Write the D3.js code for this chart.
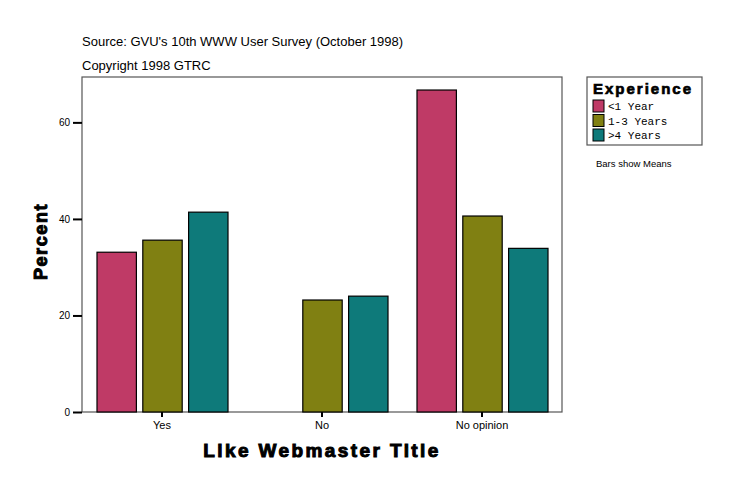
<!DOCTYPE html>
<html>
<head>
<meta charset="utf-8">
<script src="https://cdn.jsdelivr.net/npm/d3@7"></script>
<style>
  body { margin: 0; background: #fff; }
  text { font-family: "Liberation Sans", Arial, sans-serif; }
</style>
</head>
<body>
<div id="chart"></div>
<script>
// Chart data
const categories = ["Yes", "No", "No opinion"];
const seriesNames = ["<1 Year", "1-3 Years", ">4 Years"];
const lessThanOne = [33.1, null, 66.7];
const oneToThree = [35.6, 23.2, 40.6];
const overFour = [41.4, 24.0, 33.9];
const yTicks = [0, 20, 40, 60];
const colors = ["#bf3a66", "#808012", "#0e7a7a"];

const svgWidth = 736;
const svgHeight = 496;

// Plot frame
const margin = { top: 77, right: 174, bottom: 84, left: 82 };
const chartWidth = svgWidth - margin.left - margin.right;
const chartHeight = svgHeight - margin.top - margin.bottom;

const svg = d3.select("#chart")
  .append("svg")
  .attr("width", svgWidth)
  .attr("height", svgHeight);

// header texts
svg.append("text")
  .attr("x", 82).attr("y", 46)
  .style("font-size", "13px")
  .text("Source: GVU's 10th WWW User Survey (October 1998)");
svg.append("text")
  .attr("x", 82).attr("y", 70)
  .style("font-size", "13px")
  .text("Copyright 1998 GTRC");

const chartGroup = svg.append("g")
  .attr("transform", `translate(${margin.left}, ${margin.top})`);

// scales
const xScale = d3.scaleBand()
  .domain(categories)
  .range([0, chartWidth]);

const xInner = d3.scaleBand()
  .domain(seriesNames)
  .range([15, 146])
  .paddingInner(0.14);

const yScale = d3.scaleLinear()
  .domain([0, 69.4])
  .range([chartHeight, 0]);

// frame
chartGroup.append("rect")
  .attr("width", chartWidth)
  .attr("height", chartHeight)
  .attr("fill", "none")
  .attr("stroke", "#555")
  .attr("stroke-width", 1.2);

// bars
const seriesValues = [lessThanOne, oneToThree, overFour];
const barData = [];
categories.forEach((c, i) => {
  seriesNames.forEach((s, j) => {
    if (seriesValues[j][i] != null) {
      barData.push({ cat: c, series: s, value: seriesValues[j][i], color: colors[j] });
    }
  });
});

chartGroup.selectAll("rect.bar")
  .data(barData)
  .enter()
  .append("rect")
  .attr("class", "bar")
  .attr("x", d => xScale(d.cat) + xInner(d.series))
  .attr("y", d => yScale(d.value))
  .attr("width", xInner.bandwidth())
  .attr("height", d => chartHeight - yScale(d.value))
  .attr("fill", d => d.color)
  .attr("stroke", "#000")
  .attr("stroke-width", 1.2);

// left axis
const leftAxis = d3.axisLeft(yScale)
  .tickValues(yTicks)
  .tickSize(9)
  .tickPadding(3);
const gy = chartGroup.append("g").call(leftAxis);
gy.select(".domain").remove();
gy.selectAll("line").attr("stroke", "#000").attr("stroke-width", 2);
gy.selectAll("text")
  .style("font-size", "10px")
  .style("font-family", "Liberation Sans, Arial, sans-serif");

// bottom axis
const bottomAxis = d3.axisBottom(xScale)
  .tickSize(5)
  .tickPadding(4);
const gx = chartGroup.append("g")
  .attr("transform", `translate(0, ${chartHeight})`)
  .call(bottomAxis);
gx.select(".domain").remove();
gx.selectAll("line").attr("stroke", "#000").attr("stroke-width", 2);
gx.selectAll("text")
  .style("font-size", "11px")
  .style("font-family", "Liberation Sans, Arial, sans-serif");

// axis titles
svg.append("text")
  .attr("x", margin.left + chartWidth / 2)
  .attr("y", 457)
  .attr("text-anchor", "middle")
  .style("font-size", "19px")
  .style("font-weight", "bold")
  .style("letter-spacing", "2.4px")
  .attr("stroke", "#000")
  .attr("stroke-width", 1)
  .text("Like Webmaster Title");

svg.append("text")
  .attr("transform", `translate(47, ${margin.top + chartHeight / 2 - 3}) rotate(-90)`)
  .attr("text-anchor", "middle")
  .style("font-size", "18px")
  .style("font-weight", "bold")
  .style("letter-spacing", "1.6px")
  .attr("stroke", "#000")
  .attr("stroke-width", 1)
  .text("Percent");

// legend
const legend = svg.append("g").attr("transform", "translate(587, 77)");
legend.append("rect")
  .attr("width", 115).attr("height", 68)
  .attr("fill", "#fff")
  .attr("stroke", "#555")
  .attr("stroke-width", 1.2);
legend.append("text")
  .attr("x", 6).attr("y", 17)
  .style("font-size", "15px")
  .style("font-weight", "bold")
  .style("letter-spacing", "2px")
  .attr("stroke", "#000")
  .attr("stroke-width", 0.7)
  .text("Experience");

const items = legend.selectAll("g.item")
  .data(seriesNames)
  .enter()
  .append("g")
  .attr("class", "item")
  .attr("transform", (d, i) => `translate(6, ${23 + i * 14.5})`);
items.append("rect")
  .attr("width", 11).attr("height", 12)
  .attr("fill", (d, i) => colors[i])
  .attr("stroke", "#000")
  .attr("stroke-width", 1);
items.append("text")
  .attr("x", 15).attr("y", 10)
  .style("font-family", "Liberation Mono, Courier New, monospace")
  .style("font-size", "11px")
  .text(d => d);

svg.append("text")
  .attr("x", 596).attr("y", 167)
  .style("font-size", "9.5px")
  .text("Bars show Means");
</script>
</body>
</html>
